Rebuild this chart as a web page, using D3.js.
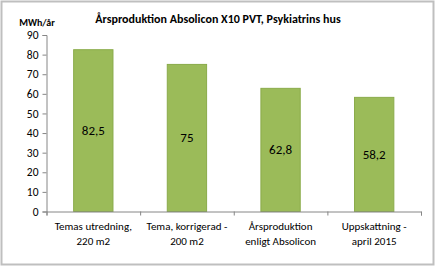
<!DOCTYPE html>
<html><head><meta charset="utf-8">
<script src="https://cdn.jsdelivr.net/npm/d3@7"></script>
<style>body{margin:0;background:#fff}svg{display:block}</style>
</head><body>
<script>
const categories = [["Temas utredning,","220 m2"],["Tema, korrigerad -","200 m2"],["Årsproduktion","enligt Absolicon"],["Uppskattning -","april 2015"]];
const values = [82.5, 75, 62.8, 58.2];
const valueLabels = ["82,5","75","62,8","58,2"];
const yTicks = [0,10,20,30,40,50,60,70,80,90];
const title = "Årsproduktion Absolicon X10 PVT, Psykiatrins hus";
const yUnit = "MWh/år";

const W=436,H=268;
const font = "Carlito, 'Open Sans', 'Liberation Sans', sans-serif";
const svg=d3.select("body").append("svg").attr("width",W).attr("height",H);
svg.append("rect").attr("x",1.5).attr("y",1.5).attr("width",W-4).attr("height",H-5)
  .attr("fill","#fff").attr("stroke","#bfbfbf").attr("stroke-width",2);

const x=d3.scaleBand().domain(d3.range(categories.length)).range([46.5,421]).paddingInner(0.58).paddingOuter(0.29);
const y=d3.scaleLinear().domain([0,90]).range([211.5,35]);

svg.append("text").attr("x",218).attr("y",23).attr("text-anchor","middle")
  .attr("font-family",font).attr("font-weight","bold").attr("font-size",12).attr("fill","#000").text(title);
svg.append("text").attr("x",37).attr("y",26).attr("text-anchor","middle")
  .attr("font-family",font).attr("font-weight","bold").attr("font-size",10).attr("fill","#000").text(yUnit);

// y axis
const ya=svg.append("g").attr("transform","translate(46.5,0)")
  .call(d3.axisLeft(y).tickValues(yTicks).tickSize(4).tickPadding(4));
ya.select(".domain").attr("stroke","#868686");
ya.selectAll(".tick line").attr("stroke","#868686");
ya.selectAll(".tick text").attr("font-family",font).attr("font-size",11.5).attr("fill","#000");

// bars
svg.selectAll("rect.bar").data(values).join("rect").attr("class","bar")
  .attr("x",(d,i)=>x(i)).attr("width",x.bandwidth())
  .attr("y",d=>y(d)).attr("height",d=>y(0)-y(d))
  .attr("fill","#9bbb59").attr("stroke","#8aab4a").attr("stroke-width",1);

svg.selectAll("text.val").data(values).join("text").attr("class","val")
  .attr("x",(d,i)=>x(i)+x.bandwidth()/2).attr("y",d=>(y(d)+y(0))/2+4.5)
  .attr("text-anchor","middle").attr("font-family",font).attr("font-size",13).attr("fill","#000")
  .text((d,i)=>valueLabels[i]);

// x axis
const xl=d3.scaleLinear().domain([0,categories.length]).range([46.5,421]);
const xa=svg.append("g").attr("transform","translate(0,211.5)")
  .call(d3.axisBottom(xl).tickValues(d3.range(categories.length+1)).tickSize(4).tickFormat(""));
xa.select(".domain").attr("stroke","#868686");
xa.selectAll(".tick line").attr("stroke","#868686");

const lab=svg.selectAll("text.cat").data(categories).join("text").attr("class","cat")
  .attr("text-anchor","middle").attr("font-family",font).attr("font-size",11).attr("fill","#000");
lab.each(function(d,i){
  const t=d3.select(this);
  d.forEach((line,j)=>t.append("tspan").attr("x",x(i)+x.bandwidth()/2).attr("y",230+j*15).text(line));
});
</script>
</body></html>
